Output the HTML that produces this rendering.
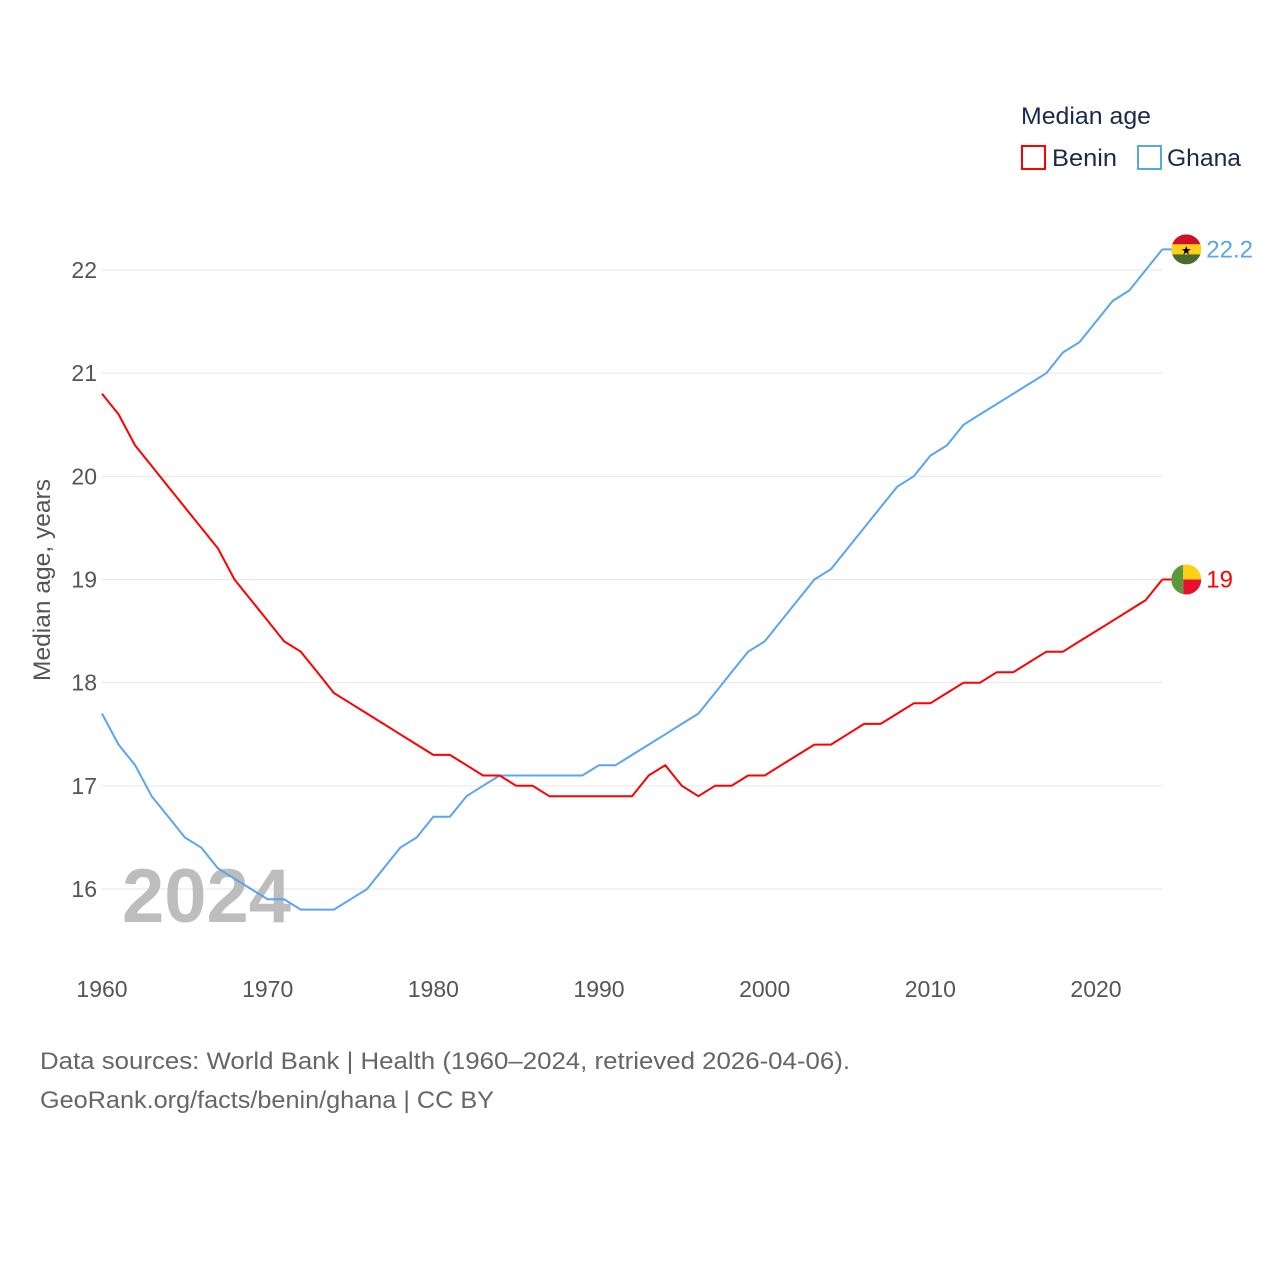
<!DOCTYPE html>
<html><head><meta charset="utf-8"><style>
body{margin:0;background:#fff;width:1280px;height:1280px;overflow:hidden;font-family:"Liberation Sans",sans-serif}
</style></head><body>
<svg id="chart" width="1280" height="1280" xmlns="http://www.w3.org/2000/svg" font-family="Liberation Sans, sans-serif">
<g id="grid"></g>
<g id="yticks"></g>
<g id="xticks"></g>
<text x="122" y="922" font-size="76" font-weight="bold" fill="#bdbdbd">2024</text>
<text transform="translate(50,580) rotate(-90)" text-anchor="middle" font-size="24" fill="#555" textLength="202" lengthAdjust="spacingAndGlyphs">Median age, years</text>
<g id="series"></g>
<g>
<text x="1021" y="124" font-size="24" fill="#1b2a4a" textLength="130" lengthAdjust="spacingAndGlyphs">Median age</text>
<rect x="1022" y="146" width="23" height="23" fill="none" stroke="#f00" stroke-width="2"/>
<text x="1052" y="166" font-size="24" fill="#1b2a4a" textLength="65" lengthAdjust="spacingAndGlyphs">Benin</text>
<rect x="1138" y="146" width="23" height="23" fill="none" stroke="#5ba4ee" stroke-width="2"/>
<text x="1167" y="166" font-size="24" fill="#1b2a4a" textLength="74" lengthAdjust="spacingAndGlyphs">Ghana</text>
</g>
<text x="40" y="1069" font-size="24" fill="#666" textLength="810" lengthAdjust="spacingAndGlyphs">Data sources: World Bank | Health (1960–2024, retrieved 2026-04-06).</text>
<text x="40" y="1108" font-size="24" fill="#666" textLength="454" lengthAdjust="spacingAndGlyphs">GeoRank.org/facts/benin/ghana | CC BY</text>
</svg>
<script>
const years=[];for(let y=1960;y<=2024;y++)years.push(y);
const benin=[20.8,20.6,20.3,20.1,19.9,19.7,19.5,19.3,19.0,18.8,18.6,18.4,18.3,18.1,17.9,17.8,17.7,17.6,17.5,17.4,17.3,17.3,17.2,17.1,17.1,17.0,17.0,16.9,16.9,16.9,16.9,16.9,16.9,17.1,17.2,17.0,16.9,17.0,17.0,17.1,17.1,17.2,17.3,17.4,17.4,17.5,17.6,17.6,17.7,17.8,17.8,17.9,18.0,18.0,18.1,18.1,18.2,18.3,18.3,18.4,18.5,18.6,18.7,18.8,19.0];
const ghana=[17.7,17.4,17.2,16.9,16.7,16.5,16.4,16.2,16.1,16.0,15.9,15.9,15.8,15.8,15.8,15.9,16.0,16.2,16.4,16.5,16.7,16.7,16.9,17.0,17.1,17.1,17.1,17.1,17.1,17.1,17.2,17.2,17.3,17.4,17.5,17.6,17.7,17.9,18.1,18.3,18.4,18.6,18.8,19.0,19.1,19.3,19.5,19.7,19.9,20.0,20.2,20.3,20.5,20.6,20.7,20.8,20.9,21.0,21.2,21.3,21.5,21.7,21.8,22.0,22.2];
const yTicks=[16,17,18,19,20,21,22];
const xTicks=[1960,1970,1980,1990,2000,2010,2020];
const NS="http://www.w3.org/2000/svg";
const X=v=>102+(v-1960)*(994/60);
const Y=v=>889-(v-16)*(619/6);
function mk(t,a,p){const e=document.createElementNS(NS,t);for(const k in a)e.setAttribute(k,a[k]);p.appendChild(e);return e;}
const grid=document.getElementById('grid'),yt=document.getElementById('yticks'),xt=document.getElementById('xticks'),se=document.getElementById('series');
yTicks.forEach(v=>{
 const l=mk('line',{x1:102,x2:1162,y1:Y(v),y2:Y(v),stroke:'#e6e6e6','stroke-width':1},grid);
 
 
 const t=mk('text',{x:97,y:Y(v)+8,'text-anchor':'end','font-size':23,fill:'#555'},yt);t.textContent=v;
 
 
});
xTicks.forEach(v=>{
 const t=mk('text',{x:X(v),y:997,'text-anchor':'middle','font-size':23,fill:'#555'},xt);t.textContent=v;
 
 
});
function line(vals,col,name){
 const d=vals.map((v,i)=>(i?'L':'M')+X(years[i]).toFixed(1)+','+Y(v).toFixed(1)).join('');
 const p=mk('path',{d:d,fill:'none',stroke:col,'stroke-width':2,'stroke-linejoin':'round'},se);
 
 
}
line(ghana,'#5ba4ee','ghana-line');
line(benin,'#f00','benin-line');
const gx=X(2024)+24,gy=Y(ghana[ghana.length-1]),bx=X(2024)+24,by=Y(benin[benin.length-1]);
mk('line',{x1:X(2024),x2:gx-14,y1:gy,y2:gy,stroke:'#5ba4ee','stroke-width':2},se);
mk('line',{x1:X(2024),x2:bx-14,y1:by,y2:by,stroke:'#f00','stroke-width':2},se);
const gf=mk('g',{},se);


const cg=mk('clipPath',{id:'cg'},gf);mk('circle',{cx:gx,cy:gy,r:15},cg);
const gg=mk('g',{'clip-path':'url(#cg)'},gf);
mk('rect',{x:gx-15,y:gy-15,width:30,height:10,fill:'#ce1126'},gg);
mk('rect',{x:gx-15,y:gy-5,width:30,height:10,fill:'#fcd116'},gg);
mk('rect',{x:gx-15,y:gy+5,width:30,height:10,fill:'#4a6b2f'},gg);
mk('text',{x:gx,y:gy+5,'text-anchor':'middle','font-size':12,fill:'#000'},gg).textContent='★';
const bf=mk('g',{},se);


const cp=mk('clipPath',{id:'cb'},bf);mk('circle',{cx:bx,cy:by,r:15},cp);
const bg=mk('g',{'clip-path':'url(#cb)'},bf);
mk('rect',{x:bx-15,y:by-15,width:12,height:30,fill:'#5a9a3a'},bg);
mk('rect',{x:bx-3,y:by-15,width:18,height:15,fill:'#fcd116'},bg);
mk('rect',{x:bx-3,y:by,width:18,height:15,fill:'#e8112d'},bg);
const gl=mk('text',{x:gx+20,y:gy+8,'font-size':24,fill:'#5ba4ee'},se);gl.textContent=ghana[ghana.length-1];


const bl=mk('text',{x:bx+20,y:by+8,'font-size':24,fill:'#f00'},se);bl.textContent=benin[benin.length-1];


</script>
</body></html>
